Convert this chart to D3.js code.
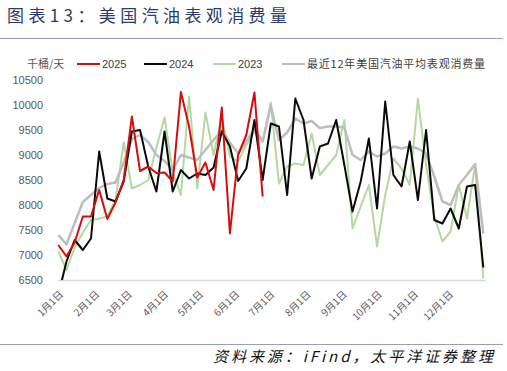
<!DOCTYPE html>
<html><head><meta charset="utf-8">
<script src="https://cdn.jsdelivr.net/npm/d3@7"></script>
<style>body{margin:0;background:#fff}svg{display:block}</style>
</head><body>
<svg id="c" width="507" height="371"></svg>
<script>
// ---- data (weekly, index 0..52, week i = day 7*i of the year) ----
const s2025 = [7200,6970,7250,7770,7770,8300,7720,8050,8500,9770,8680,8770,8640,8650,8470,10260,9570,8550,8850,8300,9950,7430,9000,9400,10250,8170];
const s2024 = [6200,6870,7300,7100,7330,9070,8130,8070,8470,9470,9500,8770,8270,9470,8270,8700,8530,8630,8600,8750,9470,9170,8480,8730,9700,8500,9630,9570,8200,10130,9700,8530,9170,9230,9700,8800,7870,8470,9330,7930,10070,8600,8370,9270,8100,9500,7700,7630,7930,7530,8370,8400,6750];
const s2023 = [7070,6700,7150,7450,7700,7730,7770,8100,9250,8330,8400,8500,9150,9750,8650,8200,10170,8330,9850,9000,9770,8970,8870,9200,9470,9270,10050,8430,8770,8830,8800,9430,8600,8800,9000,9700,7530,7970,8400,7170,8200,8930,8730,8400,10130,8800,7770,7270,7470,8400,7730,8800,6530];
const sAvg  = [7400,7210,7640,8060,8200,8340,8420,8450,8850,9320,9400,9260,9000,8880,8700,9000,8950,8900,9100,9300,9500,9250,9030,9270,9520,9270,9980,9300,9450,9730,9630,9680,9540,9570,9570,9550,9000,8900,9070,8970,9030,9170,9130,9170,9130,9030,8570,8070,8000,8400,8600,8820,7430];
const monthDays   = [0,31,59,90,120,151,181,212,243,273,304,334];
const monthLabels = ["1月1日","2月1日","3月1日","4月1日","5月1日","6月1日","7月1日","8月1日","9月1日","10月1日","11月1日","12月1日"];
const yTicks = [6500,7000,7500,8000,8500,9000,9500,10000,10500];
const seriesNames = ["2025","2024","2023","最近12年美国汽油平均表观消费量"];
const title = "图表13：美国汽油表观消费量";
const unit = "千桶/天";
const source = "资料来源：iFind，太平洋证券整理";

const colors = {"2025":"#d80c0c","2024":"#0a0a0a","2023":"#b3d9a0","avg":"#bdbdbd"};

const svg = d3.select("#c");
const x = d3.scaleLinear().domain([0,364]).range([58.3,483.3]);
const y = d3.scaleLinear().domain([6500,10500]).range([280,80]);
const cjk = "'Noto Sans CJK SC','Noto Sans',sans-serif";
const lat = "'Liberation Sans',Arial,sans-serif";

// title
svg.append("text").attr("x",7).attr("y",22).attr("font-family",cjk).attr("font-size",17)
  .attr("fill","#2b3a6b").attr("textLength",280).attr("lengthAdjust","spacing").text(title);
svg.append("line").attr("x1",0).attr("x2",503).attr("y1",38.5).attr("y2",38.5).attr("stroke","#9a9ac8").attr("stroke-width",1.2);

// y axis labels
const yAxis = d3.axisLeft(y).tickValues(yTicks).tickSize(0).tickPadding(0).tickFormat(d=>d);
const gy = svg.append("g").attr("transform","translate(43,0)").call(yAxis);
gy.select(".domain").remove();
gy.selectAll("text").attr("font-family",lat).attr("font-size",11).attr("fill","#595959");

// x axis
const xAxis = d3.axisBottom(x).tickValues(monthDays).tickSize(0).tickFormat((d,i)=>monthLabels[i]);
const gx = svg.append("g").attr("transform","translate(0,280)").call(xAxis);
gx.select(".domain").attr("stroke","#d9d9d9").attr("stroke-width",1.5).attr("d","M58,0.5H486");
gx.selectAll("text").attr("font-family",cjk).attr("font-size",10).attr("fill","#595959")
  .attr("text-anchor","end").attr("dy",0).attr("y",0)
  .attr("transform","translate(5,15) rotate(-45)");

// clip
svg.append("clipPath").attr("id","pc").append("rect").attr("x",50).attr("y",70).attr("width",445).attr("height",210);

const line = d3.line().x((d,i)=>x(7*i)).y(d=>y(d));
const plot = svg.append("g").attr("clip-path","url(#pc)");
plot.append("path").datum(s2023).attr("d",line).attr("fill","none").attr("stroke",colors["2023"]).attr("stroke-width",2).attr("stroke-linejoin","round");
plot.append("path").datum(sAvg).attr("d",line).attr("fill","none").attr("stroke",colors.avg).attr("stroke-width",2.5).attr("stroke-linejoin","round");
plot.append("path").datum(s2024).attr("d",line).attr("fill","none").attr("stroke",colors["2024"]).attr("stroke-width",2).attr("stroke-linejoin","round");
plot.append("path").datum(s2025).attr("d",line).attr("fill","none").attr("stroke",colors["2025"]).attr("stroke-width",2).attr("stroke-linejoin","round");

// legend
const lg = svg.append("g");
lg.append("text").attr("x",27).attr("y",68).attr("font-family",cjk).attr("font-size",11).attr("fill","#595959").text(unit);
const items = [
  {name:seriesNames[0],c:colors["2025"],x:77,tw:null},
  {name:seriesNames[1],c:colors["2024"],x:144,tw:null},
  {name:seriesNames[2],c:colors["2023"],x:213,tw:null},
  {name:seriesNames[3],c:colors.avg,x:282,tw:178}
];
items.forEach(it=>{
  lg.append("line").attr("x1",it.x).attr("x2",it.x+23).attr("y1",64).attr("y2",64).attr("stroke",it.c).attr("stroke-width",2);
  const t = lg.append("text").attr("x",it.x+25).attr("y",68).attr("font-size",11).attr("fill","#404040")
    .attr("font-family",it.tw?cjk:lat).text(it.name);
  if(it.tw) t.attr("textLength",it.tw).attr("lengthAdjust","spacing");
});

// footer
svg.append("line").attr("x1",0).attr("x2",503).attr("y1",344.5).attr("y2",344.5).attr("stroke","#9a9ac8").attr("stroke-width",1.2);
svg.append("text").attr("x",213).attr("y",362).attr("font-family",cjk).attr("font-size",15).attr("font-style","italic")
  .attr("fill","#111").attr("textLength",280).attr("lengthAdjust","spacing").text(source);
</script>
</body></html>
